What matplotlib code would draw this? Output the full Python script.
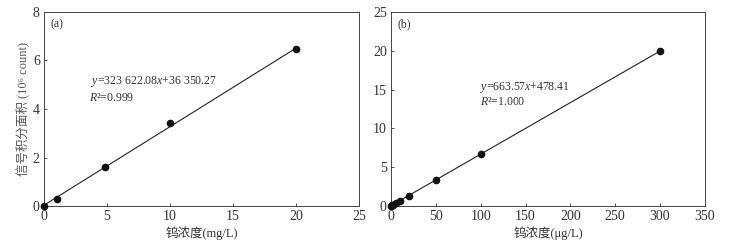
import matplotlib
matplotlib.use("Agg")
import matplotlib.pyplot as plt
import numpy as np

plt.rcParams['font.family'] = ['Liberation Serif', 'DejaVu Serif', 'Noto Sans CJK SC']
plt.rcParams['mathtext.fontset'] = 'custom'
plt.rcParams['mathtext.rm'] = 'Liberation Serif'
plt.rcParams['mathtext.it'] = 'Liberation Serif:italic'

# Panel (a) data: concentration (mg/L) vs integrated signal area (10^6 count)
conc_a = [0, 1, 4.85, 10, 20]
area_a = [0.0, 0.30, 1.61, 3.42, 6.48]
slope_a, icpt_a = 323622.08, 36350.27  # count per mg/L, count

# Panel (b) data: concentration (ug/L) vs integrated signal area (10^4 count)
conc_b = [0, 1, 2, 5, 10, 20, 50, 100, 300]
area_b = [0.03, 0.10, 0.18, 0.38, 0.68, 1.32, 3.36, 6.68, 19.95]
slope_b, icpt_b = 663.57, 478.41

xticks_a = [0, 5, 10, 15, 20, 25]
yticks_a = [0, 2, 4, 6, 8]
xticks_b = [0, 50, 100, 150, 200, 250, 300, 350]
yticks_b = [0, 5, 10, 15, 20, 25]

fig = plt.figure(figsize=(7.35, 2.43), dpi=100)
ax1 = fig.add_axes([0.0599, 0.152, 0.4286, 0.799])
ax2 = fig.add_axes([0.532, 0.152, 0.427, 0.799])

tc = '#333333'
for ax in (ax1, ax2):
    ax.tick_params(direction='in', length=2.5, width=0.6, labelsize=10, colors=tc, pad=3)
    for s in ax.spines.values():
        s.set_linewidth(0.7)
        s.set_color('#444444')

# (a)
xa = np.array([0, 20])
ax1.plot(xa, (slope_a * xa + icpt_a) / 1e6, color='#222222', lw=0.8)
ax1.plot(conc_a, area_a, 'o', color='#111111', ms=4.5, clip_on=False, zorder=5)
ax1.set_xlim(0, 25)
ax1.set_ylim(0, 8)
ax1.set_xticks(xticks_a)
ax1.set_yticks(yticks_a)
ax1.set_xlabel('钨浓度(mg/L)', fontsize=9, color=tc, labelpad=2)
ax1.set_ylabel('信号积分面积 (10⁶ count)', fontsize=9, color='#555555', labelpad=2)
ax1.text(0.02, 0.965, '(a)', transform=ax1.transAxes, fontsize=8.5, color=tc, va='top')
ax1.text(3.75, 5.15, '$y$=323 622.08$x$+36 350.27', fontsize=8.5, color=tc, va='center')
ax1.text(3.6, 4.45, '$R$²=0.999', fontsize=8.5, color=tc, va='center')

# (b)
xb = np.array([0, 300])
ax2.plot(xb, (slope_b * xb + icpt_b) / 1e4, color='#222222', lw=0.8)
ax2.plot(conc_b, area_b, 'o', color='#111111', ms=4.5, clip_on=False, zorder=5)
ax2.set_xlim(0, 350)
ax2.set_ylim(0, 25)
ax2.set_xticks(xticks_b)
ax2.set_yticks(yticks_b)
ax2.set_xlabel('钨浓度(μg/L)', fontsize=9, color=tc, labelpad=2)
ax2.text(0.02, 0.965, '(b)', transform=ax2.transAxes, fontsize=8.5, color=tc, va='top')
ax2.text(99, 15.3, '$y$=663.57$x$+478.41', fontsize=8.5, color=tc, va='center')
ax2.text(99, 13.4, '$R$²=1.000', fontsize=8.5, color=tc, va='center')

fig.savefig('out.png', dpi=100)
